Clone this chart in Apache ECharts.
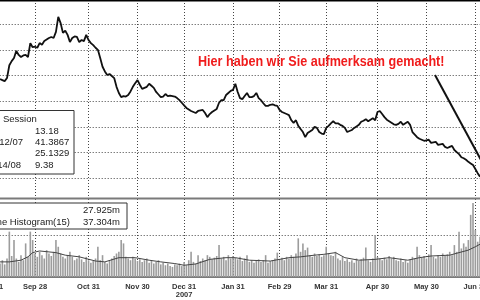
<!DOCTYPE html>
<html>
<head>
<meta charset="utf-8">
<script src="https://cdn.jsdelivr.net/npm/echarts@6/dist/echarts.min.js"></script>
<style>
  html, body { margin: 0; padding: 0; background: #fff; }
  #chart { width: 480px; height: 300px; }
</style>
</head>
<body>
<div id="chart"></div>
<script>
// trading days shown: Aug 31 2007 .. Jul 2 2008 (market holidays skipped)
const holidays = ['2007-09-03', '2007-11-22', '2007-12-25', '2008-01-01', '2008-01-21', '2008-02-18', '2008-03-21', '2008-05-26']
const monthEnds = ['2007-08-31', '2007-09-28', '2007-10-31', '2007-11-30', '2007-12-31', '2008-01-31', '2008-02-29', '2008-03-31', '2008-04-30', '2008-05-30', '2008-06-30']
const tickLabels = ['Aug 31', 'Sep 28', 'Oct 31', 'Nov 30', 'Dec 31\n2007', 'Jan 31', 'Feb 29', 'Mar 31', 'Apr 30', 'May 30', 'Jun 30']

// closing price (first days are off the left edge)
const price = [
  null, null, null, null, 29.3, 29.1, 28.9, 29.5, 32.0, 32.8,
  33.4, 34.8, 34.0, 33.6, 33.9, 34.0, 33.6, 36.3, 35.5, 35.6,
  35.4, 36.3, 36.0, 36.7, 37.0, 37.3, 37.5, 37.3, 38.5, 41.4,
  40.2, 38.3, 38.7, 37.9, 36.5, 37.3, 37.6, 37.5, 36.5, 36.9,
  36.7, 37.9, 36.9, 36.3, 35.9, 35.4, 35.0, 33.4, 31.7, 30.8,
  30.1, 30.3, 29.9, 29.5, 27.8, 26.6, 25.8, 26.0, 25.9, 26.2,
  26.9, 27.8, 28.5, 29.1, 28.2, 27.4, 27.6, 27.8, 28.4, 28.0,
  27.6, 26.8, 26.3, 25.8, 25.9, 26.4, 26.0, 26.1, 26.0, 25.9,
  25.6, 25.2, 24.7, 24.2, 23.7, 23.4, 23.1, 22.9, 22.7, 23.1,
  23.2, 23.3, 22.7, 21.9, 22.5, 22.9, 23.2, 23.5, 24.7, 25.2,
  25.2, 26.2, 26.6, 27.0, 27.2, 28.4, 26.8, 25.6, 25.4, 26.0,
  26.6, 25.8, 25.8, 26.0, 26.6, 25.6, 25.2, 24.6, 24.1, 24.1,
  24.3, 24.4, 24.2, 24.1, 23.3, 22.9, 22.7, 22.5, 22.3, 21.3,
  20.8, 21.3, 20.2, 19.6, 19.0, 18.0, 18.8, 19.1, 19.4, 20.0,
  19.8, 19.0, 18.7, 18.6, 19.8, 20.2, 20.7, 21.1, 20.7, 20.7,
  20.4, 20.2, 19.8, 19.0, 19.2, 19.4, 19.8, 20.1, 20.4, 21.0,
  21.2, 21.5, 21.1, 21.4, 21.7, 21.3, 22.9, 23.1, 22.5, 21.9,
  21.4, 21.1, 20.8, 20.5, 20.4, 20.6, 21.0, 20.4, 20.7, 21.0,
  20.4, 19.0, 18.5, 18.0, 17.7, 17.5, 17.3, 17.4, 17.5, 16.9,
  17.0, 17.1, 16.5, 16.6, 16.7, 16.1, 15.9, 16.1, 16.3, 15.5,
  15.1, 14.7, 14.1, 13.9, 13.6, 13.2, 12.9, 12.6, 11.8, 11.0, 10.3
]

// daily volume, millions
const volume = [
  null, null, null, null, 16, 20, 15, 22, 54, 25,
  44, 22, 18, 26, 20, 40, 24, 54, 44, 28,
  24, 30, 26, 22, 32, 28, 25, 30, 44, 36,
  28, 24, 22, 26, 30, 24, 20, 22, 26, 21,
  18, 24, 20, 17, 19, 22, 36, 20, 26, 18,
  16, 20, 22, 25, 28, 30, 44, 40, 24, 22,
  20, 24, 22, 19, 21, 18, 20, 22, 17, 19,
  16, 18, 20, 15, 17, 14, 16, 13, 12, 15,
  14, 16, 13, 18, 14, 20, 30, 18, 16, 26,
  19, 22, 20, 26, 24, 21, 23, 25, 38, 22,
  24, 20, 26, 22, 25, 23, 21, 24, 19, 22,
  26, 18, 20, 17, 19, 21, 18, 20, 26, 17,
  19, 20, 22, 29, 21, 23, 20, 24, 22, 26,
  24, 28, 46, 30, 40, 32, 35, 26, 24, 28,
  25, 27, 24, 26, 36, 28, 26, 25, 30, 22,
  20, 24, 19, 21, 18, 20, 17, 22, 19, 21,
  23, 35, 20, 18, 22, 50, 24, 22, 20, 23,
  21, 25, 22, 24, 20, 19, 22, 18, 20, 17,
  21, 24, 22, 36, 26, 23, 25, 22, 27, 38,
  24, 22, 26, 24, 28, 25, 27, 30, 26, 38,
  30, 54, 34, 40, 36, 44, 74, 88, 56, 42, 48
]

// volume moving average (15), read at [day index, millions]
const volumeMA = [
  [4, 18], [8, 18], [13, 20], [16, 24], [18, 29], [21, 31], [28, 29], [32, 26], [38, 24], [45, 19],
  [49, 18], [55, 23], [62, 23], [68, 20], [73, 18], [79, 16], [83, 14], [88, 15.5], [94, 21], [101, 23],
  [105, 23], [111, 20], [120, 19], [128, 23], [133, 24], [139, 26], [143, 27], [148, 29], [152, 23], [158, 20],
  [165, 21], [171, 23], [179, 20], [184, 23], [189, 25], [197, 26], [201, 29], [205, 32], [208, 36], [210, 39]
]

const days = []
let d = new Date(Date.UTC(2007, 7, 31))
const last = Date.UTC(2008, 6, 2)
while (d.getTime() <= last) {
  const s = d.toISOString().slice(0, 10)
  const wd = d.getUTCDay()
  if (wd !== 0 && wd !== 6 && holidays.indexOf(s) < 0) days.push(s)
  d = new Date(d.getTime() + 86400000)
}

const isMonthEnd = (i, v) => monthEnds.indexOf(v) >= 0
const dotted = { color: '#444', width: 1, type: [1, 2] }
const plotLeft = -9.3
const plotWidth = 489.3
const font = '"Liberation Sans", Arial, sans-serif'

const chart = echarts.init(document.getElementById('chart'))

const option = {
  animation: false,
  backgroundColor: '#fff',
  grid: [
    // top panel frame
    { left: plotLeft, width: plotWidth, top: 0, height: 198, outerBoundsMode: 'none', containLabel: false },
    // price
    { left: plotLeft, width: plotWidth, top: -1.6, height: 179.9, outerBoundsMode: 'none', containLabel: false },
    // volume
    { left: plotLeft, width: plotWidth, top: 199, height: 78, outerBoundsMode: 'none', containLabel: false }
  ],
  xAxis: [
    {
      gridIndex: 0, type: 'category', data: days, boundaryGap: false,
      axisLine: { show: false }, axisTick: { show: false }, axisLabel: { show: false },
      splitLine: { show: true, interval: isMonthEnd, lineStyle: dotted }
    },
    {
      gridIndex: 1, type: 'category', data: days, boundaryGap: false, show: false
    },
    {
      gridIndex: 2, type: 'category', data: days, boundaryGap: false,
      axisLine: { show: true, lineStyle: { color: '#7a7a7a', width: 2 } },
      axisTick: { show: false },
      splitLine: { show: true, interval: isMonthEnd, lineStyle: dotted },
      axisLabel: {
        interval: isMonthEnd,
        hideOverlap: false,
        margin: 6,
        color: '#333',
        fontSize: 7.5,
        fontWeight: 'bold',
        fontFamily: font,
        lineHeight: 8,
        formatter: v => tickLabels[monthEnds.indexOf(v)]
      }
    }
  ],
  yAxis: [
    { gridIndex: 0, type: 'value', min: 0, max: 1, show: false },
    {
      gridIndex: 1, type: 'value', min: 10, max: 45, interval: 5, position: 'right',
      axisLine: { show: false }, axisTick: { show: false }, axisLabel: { show: false },
      splitLine: { show: true, lineStyle: dotted }
    },
    {
      gridIndex: 2, type: 'value', min: 0, max: 50 * 78 / 42, interval: 50, position: 'right',
      axisLine: { show: false }, axisTick: { show: false }, axisLabel: { show: false },
      splitLine: { show: true, showMinLine: false, showMaxLine: false, lineStyle: dotted }
    }
  ],
  series: [
    {
      type: 'line', xAxisIndex: 1, yAxisIndex: 1, data: price,
      symbol: 'none', lineStyle: { color: '#111', width: 1.8 }, z: 5
    },
    {
      type: 'bar', xAxisIndex: 2, yAxisIndex: 2, data: volume,
      barWidth: 1.6, itemStyle: { color: '#9c9c9c' }
    },
    {
      type: 'line', xAxisIndex: 2, yAxisIndex: 2, data: volumeMA,
      symbol: 'none', lineStyle: { color: '#444', width: 1 }, z: 4
    }
  ],
  graphic: [
    { type: 'line', z: 100, shape: { x1: 0, y1: 0.5, x2: 480, y2: 0.5 }, style: { stroke: '#000', lineWidth: 2 } },
    { type: 'line', z: 100, shape: { x1: 0, y1: 198.5, x2: 480, y2: 198.5 }, style: { stroke: '#7a7a7a', lineWidth: 2 } },
    // session box
    { type: 'rect', z: 100, shape: { x: -2, y: 110.5, width: 76, height: 63.5 }, style: { fill: '#fff', stroke: '#333', lineWidth: 1 } },
    { type: 'text', z: 101, x: 3, y: 119, style: { text: 'Session', fill: '#222', font: '9.5px ' + font, verticalAlign: 'middle' } },
    { type: 'text', z: 101, x: 35, y: 131, style: { text: '13.18', fill: '#222', font: '9.5px ' + font, verticalAlign: 'middle' } },
    { type: 'text', z: 101, x: 23, y: 142, style: { text: '10/12/07', fill: '#222', font: '9.5px ' + font, align: 'right', verticalAlign: 'middle' } },
    { type: 'text', z: 101, x: 35, y: 142, style: { text: '41.3867', fill: '#222', font: '9.5px ' + font, verticalAlign: 'middle' } },
    { type: 'text', z: 101, x: 35, y: 153, style: { text: '25.1329', fill: '#222', font: '9.5px ' + font, verticalAlign: 'middle' } },
    { type: 'text', z: 101, x: 21, y: 165, style: { text: '07/14/08', fill: '#222', font: '9.5px ' + font, align: 'right', verticalAlign: 'middle' } },
    { type: 'text', z: 101, x: 35, y: 165, style: { text: '9.38', fill: '#222', font: '9.5px ' + font, verticalAlign: 'middle' } },
    // volume box
    { type: 'rect', z: 100, shape: { x: -2, y: 203, width: 129, height: 26 }, style: { fill: '#fff', stroke: '#333', lineWidth: 1 } },
    { type: 'text', z: 101, x: 120, y: 210.5, style: { text: '27.925m', fill: '#222', font: '9.5px ' + font, align: 'right', verticalAlign: 'middle' } },
    { type: 'text', z: 101, x: 70, y: 222.5, style: { text: 'Volume Histogram(15)', fill: '#222', font: '9.5px ' + font, align: 'right', verticalAlign: 'middle' } },
    { type: 'text', z: 101, x: 120, y: 222.5, style: { text: '37.304m', fill: '#222', font: '9.5px ' + font, align: 'right', verticalAlign: 'middle' } },
    // annotation
    { type: 'text', z: 101, x: 198, y: 62, scaleX: 0.84, style: { text: 'Hier haben wir Sie aufmerksam gemacht!', fill: '#f01c1c', font: 'bold 15px ' + font, verticalAlign: 'middle' } },
    { type: 'line', z: 101, shape: { x1: 435, y1: 75, x2: 481, y2: 160 }, style: { stroke: '#111', lineWidth: 2 } }
  ]
}

chart.setOption(option)
</script>
</body>
</html>
